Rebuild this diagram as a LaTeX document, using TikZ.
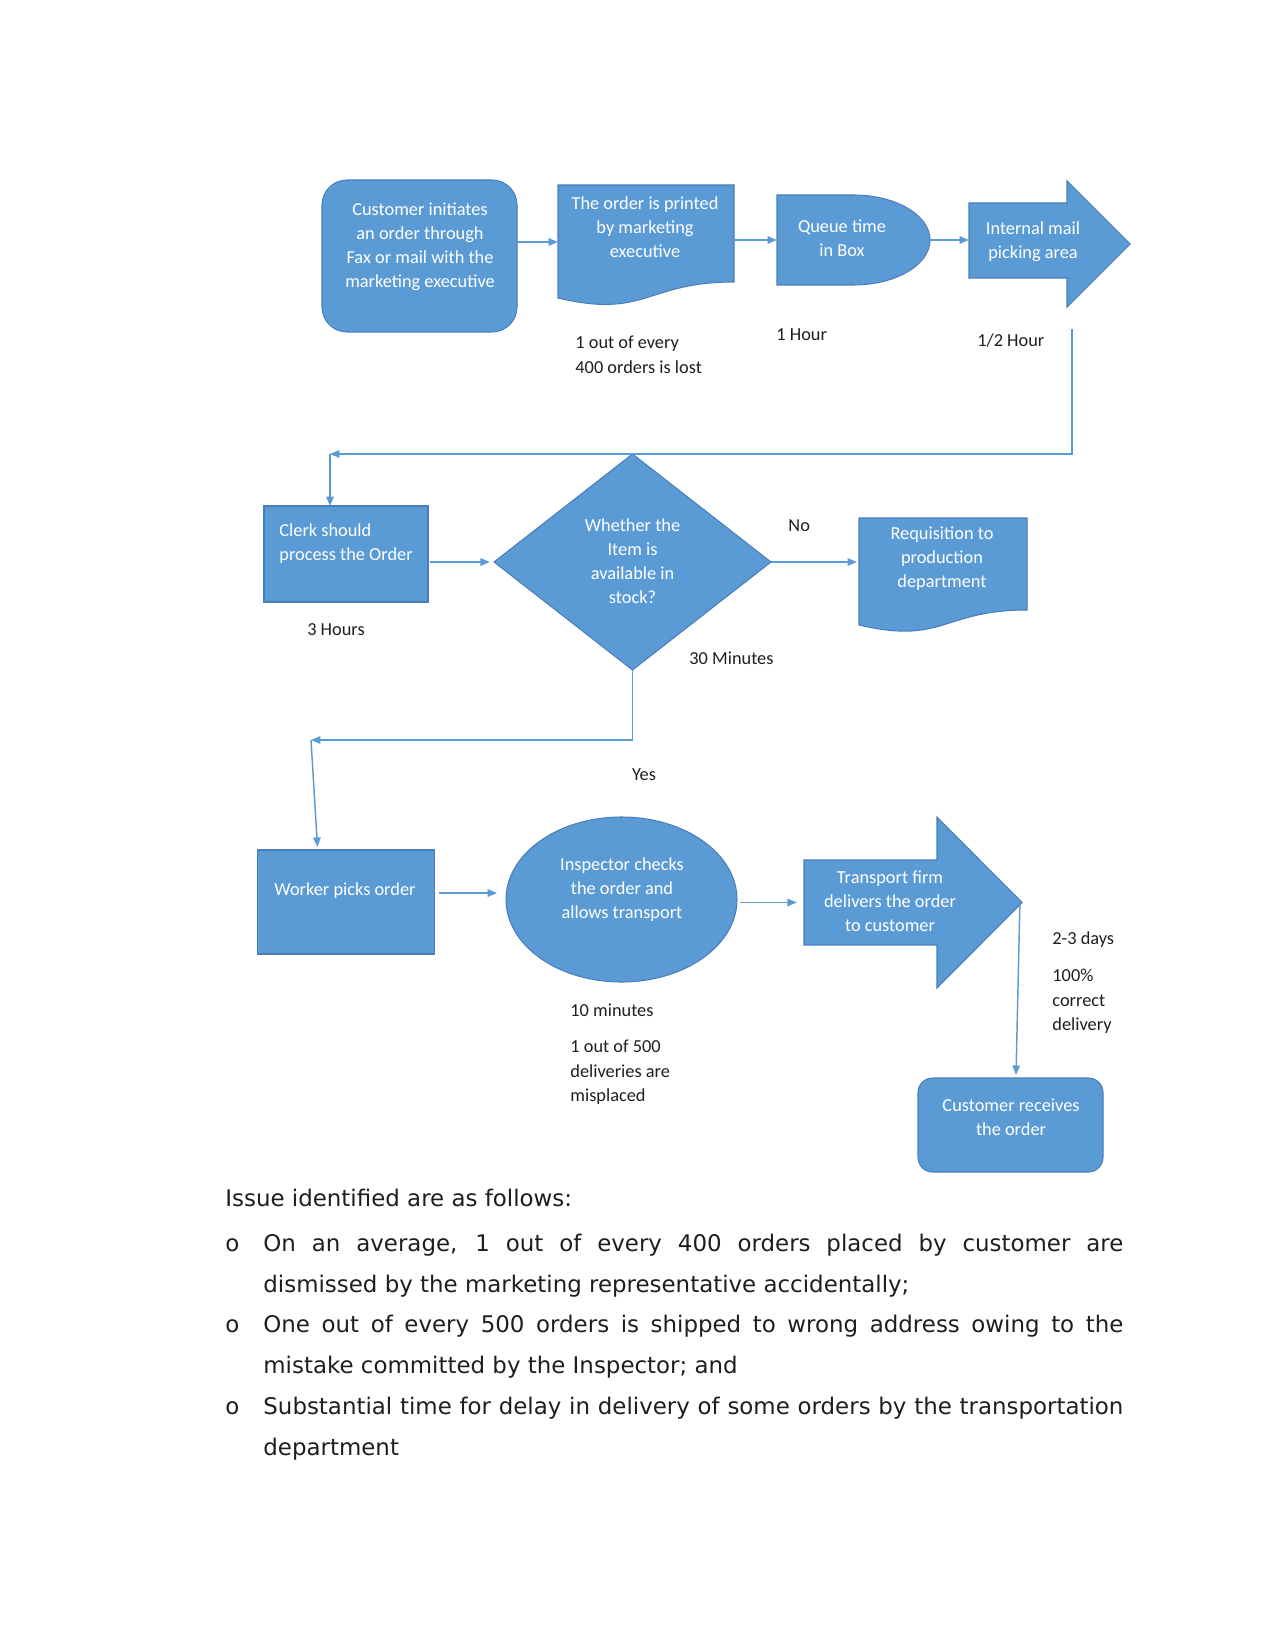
\documentclass[tikz,border=0pt]{standalone}
\usepackage{fontspec}
\setmainfont{Carlito}
\newfontfamily\dejavu{DejaVu Sans}
\usetikzlibrary{arrows.meta,shapes.geometric,calc}
\definecolor{fillblue}{HTML}{5B9BD5}
\definecolor{edgeblue}{HTML}{4A7EBB}
\definecolor{lineblue}{HTML}{5B9BD5}
\definecolor{labelgray}{HTML}{1E1E1E}
\begin{document}
\begin{tikzpicture}[x=0.48pt,y=-0.48pt,
  shapestyle/.style={fill=fillblue, draw=edgeblue, line width=0.5pt},
  intext/.style={text=white, font=\fontsize{8.8}{11.5}\selectfont, align=center, inner sep=0pt},
  lbl/.style={text=labelgray, font=\fontsize{8.8}{11.8}\selectfont, inner sep=0pt},
  frame/.style={inner sep=0pt, outer sep=0pt},
  conn/.style={draw=lineblue, line width=0.7pt, -{Triangle[length=4.5pt,width=3.6pt]}},
  body/.style={text=labelgray, font=\dejavu\fontsize{11.0}{19.5}\selectfont, inner sep=0pt, anchor=west}
]
\useasboundingbox (0,0) rectangle (1275,1650);

% ---------- top row ----------
\node[shapestyle, frame, rounded corners=12pt, minimum width=195*0.48pt, minimum height=152*0.48pt] (start) at (419.5,256) {};
\node[intext] at (420,246.5) {Customer initiates\\an order through\\Fax or mail with the\\marketing executive};

\node[frame, minimum width=176*0.48pt, minimum height=114*0.48pt] (print) at (646,242) {};
\draw[shapestyle] (558,185) -- (734,185) -- (734,282) .. controls (646,282) and (646,319) .. (558,298) -- cycle;
\node[intext] at (645,227) {The order is printed\\by marketing\\executive};

\node[frame, minimum width=153*0.48pt, minimum height=90*0.48pt] (queue) at (853.5,240) {};
\draw[shapestyle] (777,195) -- (853.5,195) arc[start angle=90, end angle=-90, x radius=36.72pt, y radius=21.6pt] -- (777,285) -- cycle;
\node[intext] at (842,238.5) {Queue time\\in Box};

\node[frame, minimum width=161*0.48pt, minimum height=126*0.48pt] (mail) at (1049.5,244) {};
\draw[shapestyle] (969,203) -- (1067,203) -- (1067,181) -- (1130,244) -- (1067,307) -- (1067,278) -- (969,278) -- cycle;
\node[intext] at (1033,242) {Internal mail\\picking area};

\draw[conn] (start.east |- print.west) -- (print.west);
\draw[conn] (print.east |- queue.west) -- (queue.west);
\draw[conn] (queue.east) -- (mail.west |- queue.east);

\node[lbl, align=left, anchor=west] at (575,354.5) {1 out of every\\400 orders is lost};
\node[lbl, anchor=west] at (776,335) {1 Hour};
\node[lbl, anchor=west] at (977,341) {1/2 Hour};

% ---------- middle row ----------
\coordinate (m1) at (1072,329);
\coordinate (c1) at (330,454);
\node[shapestyle, frame, minimum width=164*0.48pt, minimum height=96*0.48pt] (clerk) at (346,554) {};
\node[intext, align=left, anchor=west] at (279,544) {Clerk should\\process the Order};

\node[shapestyle, frame, diamond, minimum width=277*0.48pt, minimum height=216*0.48pt] (stock) at (632.5,562) {};
\node[intext] at (632.5,561) {Whether the\\Item is\\available in\\stock?};

\node[frame, minimum width=168*0.48pt, minimum height=88*0.48pt] (req) at (943,562) {};
\draw[shapestyle] (859,518) -- (1027,518) -- (1027,610) .. controls (943,610) and (943,645) .. (859,625) -- cycle;
\node[intext] at (942,559) {Requisition to\\production\\department};

\draw[conn] (m1) |- (c1);
\draw[conn] (c1) -- (c1 |- clerk.north);
\draw[conn, shorten <=1pt, shorten >=2pt] (clerk.east |- stock.west) -- (stock.west);
\draw[conn, shorten >=1pt] (stock.east) -- (req.west |- stock.east);

\node[lbl] at (336,630) {3 Hours};
\node[lbl, anchor=west] at (689,658) {30 Minutes};
\node[lbl, anchor=west] at (788,526) {No};

% ---------- lower row ----------
\coordinate (c2) at (311,740);
\node[shapestyle, frame, minimum width=177*0.48pt, minimum height=104*0.48pt] (worker) at (346,902) {};
\node[intext] at (345,891) {Worker picks order};

\node[shapestyle, frame, ellipse, minimum width=231*0.48pt, minimum height=165*0.48pt] (insp) at (621.5,899.5) {};
\node[intext] at (622,889.5) {Inspector checks\\the order and\\allows transport};

\node[frame, minimum width=219*0.48pt, minimum height=171*0.48pt] (trans) at (912.5,902.5) {};
\draw[shapestyle] (804,860) -- (937,860) -- (937,817) -- (1022,902.5) -- (937,988) -- (937,945) -- (804,945) -- cycle;
\node[intext] at (890,901) {Transport firm\\delivers the order\\to customer};

\node[shapestyle, frame, rounded corners=7pt, minimum width=185*0.48pt, minimum height=94*0.48pt] (cust) at (1010.5,1125) {};
\node[intext] at (1011,1117.5) {Customer receives\\the order};

\draw[conn] (stock.south) |- (c2);
\draw[conn, shorten >=1.5pt] (c2) -- ($(worker.north west)!0.34!(worker.north east)$);
\draw[conn, shorten <=2pt, shorten >=4.3pt] ([yshift=4.3pt]worker.east) -- ([yshift=4.3pt]worker.east -| insp.west);
\draw[conn, shorten <=1.5pt, shorten >=3pt] (insp.east |- trans.west) -- (trans.west);
\draw[conn, shorten <=1pt, shorten >=1.5pt] ([xshift=-1pt]trans.east) -- ([xshift=2.6pt]cust.north);

\node[lbl] at (644,775) {Yes};
\node[lbl, anchor=west] at (570,1010) {10 minutes};
\node[lbl, anchor=west, align=left] at (570,1072.5) {1 out of 500\\deliveries are\\misplaced};
\node[lbl, anchor=west] at (1052,940) {2-3 days};
\node[lbl, anchor=west, align=left] at (1052,1001.5) {100\%\\correct\\delivery};

% ---------- text below ----------
\node[body] (issue) at (225,1198) {Issue identified are as follows:};
\node[body] (o1) at (225,1245) {o};
\node[body] (l1) at (263,1245) {\makebox[412.8pt][s]{On an average, 1 out of every 400 orders placed by customer are}};
\node[body] (l2) at (263,1286) {dismissed by the marketing representative accidentally;};
\node[body] (o2) at (225,1326) {o};
\node[body] (l3) at (263,1326) {\makebox[412.8pt][s]{One out of every 500 orders is shipped to wrong address owing to the}};
\node[body] (l4) at (263,1367) {mistake committed by the Inspector; and};
\node[body] (o3) at (225,1408) {o};
\node[body] (l5) at (263,1408) {\makebox[412.8pt][s]{Substantial time for delay in delivery of some orders by the transportation}};
\node[body] (l6) at (263,1449) {department};
\end{tikzpicture}
\end{document}
